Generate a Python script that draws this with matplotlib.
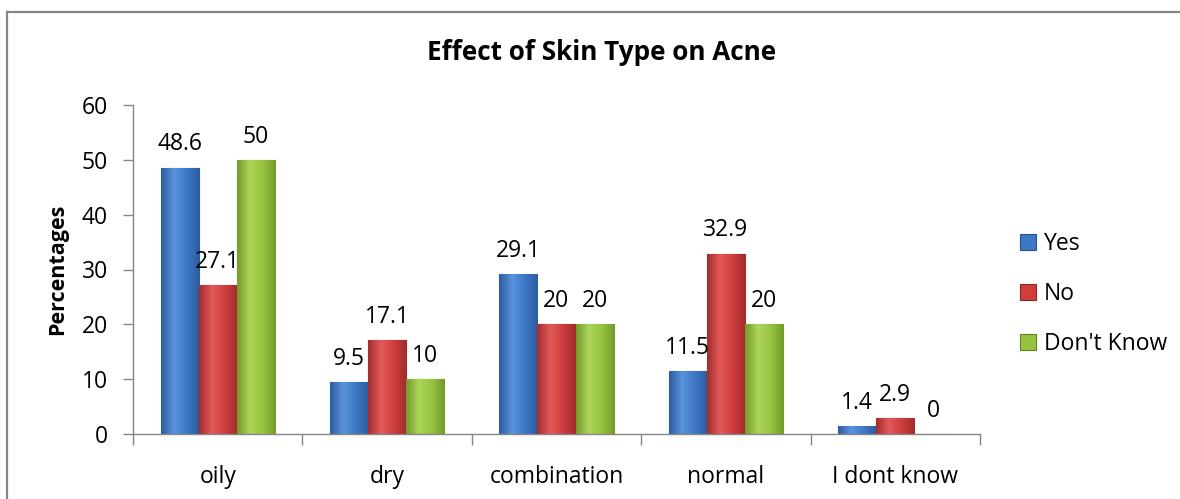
import numpy as np
import matplotlib
matplotlib.use('Agg')
import matplotlib.pyplot as plt
from matplotlib.lines import Line2D
from matplotlib.colors import LinearSegmentedColormap

plt.rcParams['font.family'] = ['Open Sans', 'DejaVu Sans']

# data
categories = ['oily', 'dry', 'combination', 'normal', 'I dont know']
series = ['Yes', 'No', "Don't Know"]
yes_vals = [48.6, 9.5, 29.1, 11.5, 1.4]
no_vals = [27.1, 17.1, 20, 32.9, 2.9]
dk_vals = [50, 10, 20, 20, 0]
yticks = [0, 10, 20, 30, 40, 50, 60]

colors = ['#3d78c6', '#cf3d3d', '#98c340']
lights = ['#5a93dc', '#e35a5a', '#add65a']
darks = ['#2c5c9e', '#a22c2c', '#749a2c']
edges = ['#27528e', '#8c2525', '#627f22']

fs = 16.5

fig = plt.figure(figsize=(11.8, 4.99), dpi=100)
ax = fig.add_axes([133 / 1180, 1 - 434 / 499, (980 - 133) / 1180, (434 - 105) / 499])

x = np.arange(len(categories))
w = 0.225
grad = np.linspace(0, 1, 64).reshape(1, -1)
for i, (vals, name) in enumerate(zip([yes_vals, no_vals, dk_vals], series)):
    pos = x + (i - 1) * w
    bars = ax.bar(pos, vals, width=w, color=colors[i], edgecolor=edges[i], linewidth=0.8,
                  label=name, zorder=2)
    # soft horizontal shading, Excel-like
    cmap = LinearSegmentedColormap.from_list('g', [darks[i], lights[i], colors[i], darks[i]])
    for b in bars:
        if b.get_height() <= 0:
            continue
        im = ax.imshow(grad, cmap=cmap, aspect='auto', zorder=2.5,
                       extent=(b.get_x(), b.get_x() + b.get_width(), 0, b.get_height()))
        im.set_clip_path(b)
    for px, v in zip(pos, vals):
        ax.annotate(f'{v:g}', (px, v), xytext=(0, 8), textcoords='offset points',
                    ha='center', va='bottom', fontsize=fs, zorder=4)

ax.set_xlim(-0.5, len(categories) - 0.5)
ax.set_ylim(0, 60)
ax.set_yticks(yticks)
ax.set_xticks(x)
ax.set_xticklabels(categories, fontsize=fs)
ax.set_xticks(np.arange(-0.5, len(categories)), minor=True)
ax.tick_params(axis='x', which='major', length=0, pad=22)
ax.tick_params(axis='x', which='minor', length=8, color='#868686', width=1)
ax.tick_params(axis='y', length=7, color='#868686', width=1, labelsize=fs, pad=11)

for s in ['top', 'right']:
    ax.spines[s].set_visible(False)
for s in ['left', 'bottom']:
    ax.spines[s].set_color('#868686')
    ax.spines[s].set_linewidth(1)
    ax.spines[s].set_zorder(3)

ax.set_ylabel('Percentages', fontsize=fs - 1, fontweight='bold')
ax.yaxis.set_label_coords(-(133 - 68) / 847, 0.5)

fig.text(602 / 1180, 1 - 53 / 499, 'Effect of Skin Type on Acne', ha='center', va='center',
         fontsize=18.8, fontweight='bold')

leg = ax.legend(loc='center left', bbox_to_anchor=(999 / 1180, 1 - 294 / 499),
                bbox_transform=fig.transFigure, frameon=False, fontsize=fs,
                handlelength=0.7, handleheight=0.7, handletextpad=0.35, labelspacing=1.15)

# outer frame
fig.add_artist(Line2D([7 / 1180, 7 / 1180], [0, 1 - 12 / 499], transform=fig.transFigure,
                      color='#868686', linewidth=1.6))
fig.add_artist(Line2D([7 / 1180, 1], [1 - 12 / 499, 1 - 12 / 499], transform=fig.transFigure,
                      color='#868686', linewidth=1.6))

fig.savefig('out.png', dpi=100)
